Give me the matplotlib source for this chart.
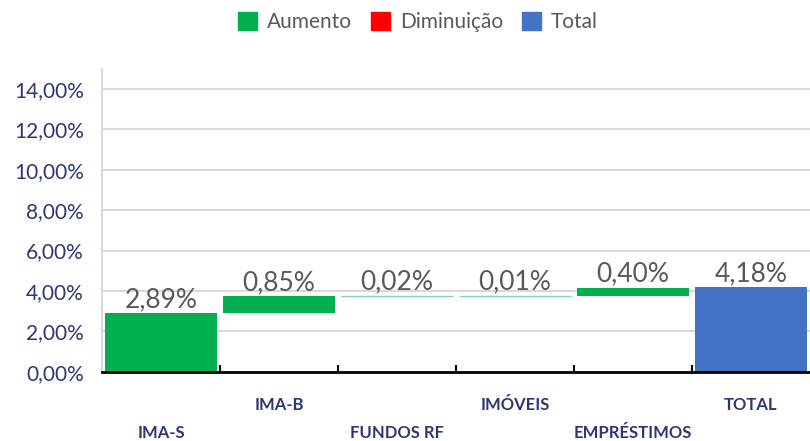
import matplotlib
matplotlib.use('Agg')
import matplotlib.pyplot as plt
from matplotlib.patches import Patch
from matplotlib.ticker import FuncFormatter, FixedLocator
import numpy as np

plt.rcParams['font.family'] = ['Lato', 'DejaVu Sans']

# data (percent)
categories = ["IMA-S", "IMA-B", "FUNDOS RF", "IMÓVEIS", "EMPRÉSTIMOS", "TOTAL"]
increments = [2.89, 0.85, 0.02, 0.01, 0.40]
total_value = 4.18
value_labels = ["2,89%", "0,85%", "0,02%", "0,01%", "0,40%", "4,18%"]

green = "#00B050"
red = "#FF0000"
blue = "#4472C4"
label_gray = "#595959"
navy = "#2E3675"

fig = plt.figure(figsize=(8.1, 4.41), dpi=100)
ax = fig.add_axes([0.126, 0.157, 0.874, 0.687])

x = np.arange(len(categories))
bottoms = np.concatenate([[0], np.cumsum(increments)[:-1]])
heights = list(increments) + [total_value]
bottoms = list(bottoms) + [0]
colors = [green] * len(increments) + [blue]

bars = ax.bar(x, heights, bottom=bottoms, width=0.95, color=colors, zorder=3)
# very small steps still show up as a thin line
for i, b in enumerate(bars):
    if heights[i] < 0.05:
        b.set_edgecolor("#7FD8A7")
        b.set_linewidth(1.0)

for i, b in enumerate(bars):
    top = bottoms[i] + heights[i]
    ax.annotate(value_labels[i], (x[i], top), xytext=(0, 1),
                textcoords="offset points", ha="center", va="bottom",
                fontsize=19, color=label_gray)

ax.set_xlim(-0.5, len(categories) - 0.5)
ax.set_ylim(0, 15)
ax.yaxis.set_major_locator(FixedLocator(np.arange(0, 15, 2)))
ax.yaxis.set_major_formatter(FuncFormatter(lambda v, p: f"{v:.2f}%".replace(".", ",")))
ax.grid(axis="y", color="#D9D9D9", linewidth=1.5, zorder=0)
ax.tick_params(axis="y", length=0, pad=13, labelsize=15, labelcolor=navy)

ax.set_xticks(x)
ax.set_xticklabels(categories, fontsize=12, fontweight="bold", color=navy)
ax.tick_params(axis="x", which="major", length=0)
for i, t in enumerate(ax.xaxis.get_major_ticks()):
    t.set_pad(38 if i % 2 == 0 else 18)
ax.set_xticks(np.arange(0.5, len(categories) - 0.5, 1), minor=True)
ax.tick_params(axis="x", which="minor", direction="in", length=5, width=1.5, color="black")

for s in ["top", "right"]:
    ax.spines[s].set_visible(False)
ax.spines["left"].set_color("#D9D9D9")
ax.spines["left"].set_linewidth(1.5)
ax.spines["bottom"].set_color("black")
ax.spines["bottom"].set_linewidth(2)
ax.spines["bottom"].set_zorder(4)

handles = [Patch(color=green, label="Aumento"),
           Patch(color=red, label="Diminuição"),
           Patch(color=blue, label="Total")]
leg = fig.legend(handles=handles, loc="center", bbox_to_anchor=(0.516, 0.95), ncol=3,
                 frameon=False, fontsize=15, handlelength=0.9, handleheight=0.9,
                 handletextpad=0.5, columnspacing=0.9)
for t in leg.get_texts():
    t.set_color(label_gray)

fig.savefig("out.png", dpi=100)
